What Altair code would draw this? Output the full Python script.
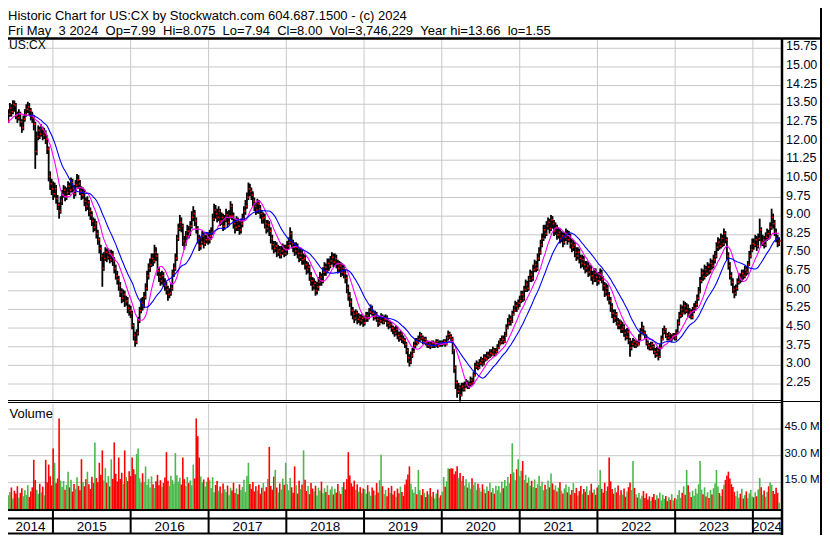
import altair as alt
import numpy as np
import pandas as pd

# ---------------- weekly data ----------------
close_2014 = [12.70,12.55,12.90,12.60,12.85,13.10,13.35,13.20,13.50,13.45,13.05,12.95,13.10,12.80,12.55,12.90,13.10,13.30,13.40,13.25,13.05,12.95,12.70,11.60,12.20,12.45,12.30,12.50,12.25,12.35,12.10,11.70,10.60,10.30,10.10]
high_2014 = [12.95,12.90,13.10,13.05,13.05,13.30,13.55,13.50,13.66,13.65,13.55,13.20,13.30,13.20,12.90,13.05,13.30,13.50,13.60,13.55,13.35,13.20,13.05,12.80,12.40,12.65,12.60,12.70,12.60,12.55,12.45,12.25,11.80,10.80,10.50]
low_2014 = [12.35,12.40,12.45,12.40,12.50,12.75,13.00,13.00,13.10,13.20,12.90,12.75,12.85,12.60,12.35,12.45,12.80,13.00,13.15,13.05,12.85,12.75,12.45,10.90,11.45,12.05,12.10,12.20,12.05,12.10,11.90,11.50,10.40,10.05,9.85]
vol_2014 = [19.5,8.2,11.4,6.5,13.0,7.8,9.6,12.1,5.9,10.3,8.7,12.8,6.4,9.1,11.7,7.2,10.5,8.0,13.4,6.8,9.9,12.2,27.7,16.3,10.8,8.5,14.2,9.4,12.6,7.7,27.7,15.1,25.0,18.4,13.3]

close_2015 = [9.90,10.10,9.70,9.45,9.20,9.60,9.85,10.05,9.80,9.95,10.20,10.05,10.35,10.10,9.90,10.25,10.45,10.30,10.00,9.85,9.95,9.60,9.40,9.55,9.20,9.05,8.80,8.55,8.70,8.30,8.05,7.70,7.40,6.90,7.30,7.55,7.35,7.50,7.25,7.45,7.20,6.90,6.60,6.45,6.20,5.95,5.70,5.85,5.55,5.60,5.30,5.20]
high_2015 = [10.40,10.35,10.25,9.85,9.55,9.80,10.05,10.25,10.20,10.15,10.40,10.35,10.55,10.50,10.25,10.45,10.70,10.65,10.45,10.20,10.15,10.05,9.75,9.80,9.65,9.35,9.20,8.95,8.90,8.80,8.45,8.15,7.85,7.50,7.55,7.75,7.70,7.70,7.65,7.65,7.60,7.35,7.05,6.80,6.60,6.35,6.10,6.05,6.00,5.80,5.75,5.45]
low_2015 = [9.65,9.75,9.50,9.25,8.90,9.10,9.45,9.75,9.60,9.65,9.85,9.85,9.95,9.95,9.70,9.80,10.15,10.10,9.85,9.65,9.70,9.40,9.20,9.25,9.00,8.85,8.60,8.35,8.40,8.10,7.85,7.50,7.20,6.16,6.80,7.20,7.15,7.25,7.10,7.15,7.00,6.70,6.45,6.25,6.00,5.75,5.50,5.55,5.35,5.40,5.10,5.00]
vol_2015 = [34.0,26.0,14.5,17.2,51.0,16.0,12.4,15.8,10.9,13.6,21.0,12.2,16.5,9.8,14.1,11.5,17.9,13.0,10.6,28.0,15.2,12.8,16.7,21.0,13.9,11.3,18.2,14.6,37.5,17.4,15.0,26.0,19.3,33.0,16.1,23.0,14.8,18.6,12.7,28.0,17.0,37.5,19.8,15.5,29.0,16.9,20.4,14.2,33.0,18.1,15.7,21.3]

close_2016 = [5.10,4.60,4.20,3.95,4.30,4.80,5.20,5.50,5.40,5.75,6.10,6.60,6.90,7.05,7.30,7.20,7.55,7.40,6.80,6.55,6.40,6.60,6.30,6.20,6.05,5.85,5.90,6.10,6.70,6.90,7.30,8.10,8.50,8.75,8.60,8.00,7.90,8.20,8.40,8.30,8.60,8.95,9.10,8.80,8.50,8.10,7.80,7.95,8.20,7.90,8.05,8.15,8.05]
high_2016 = [5.40,5.20,4.70,4.35,4.45,4.95,5.35,5.70,5.75,5.95,6.30,6.80,7.10,7.30,7.50,7.50,7.85,7.75,7.50,6.95,6.75,6.80,6.75,6.50,6.35,6.20,6.10,6.30,6.85,7.10,7.50,8.25,8.70,9.05,8.95,8.70,8.20,8.40,8.65,8.60,8.80,9.20,9.40,9.25,8.95,8.60,8.25,8.15,8.40,8.35,8.25,8.35,8.35]
low_2016 = [4.90,4.45,4.00,3.75,3.85,4.20,4.70,5.10,5.20,5.30,5.65,6.00,6.45,6.75,6.95,7.00,7.10,7.20,6.60,6.35,6.20,6.25,6.15,6.00,5.85,5.60,5.70,5.80,6.00,6.55,6.80,7.20,8.00,8.40,8.35,7.80,7.65,7.80,8.05,8.10,8.20,8.50,8.80,8.60,8.30,7.90,7.60,7.65,7.85,7.70,7.80,7.90,7.85]
vol_2016 = [18.5,29.0,22.4,19.6,31.0,34.0,17.3,14.8,20.1,15.2,24.0,13.6,16.9,12.1,18.4,14.0,11.8,15.6,19.2,13.3,16.2,12.5,14.7,17.8,32.0,15.9,13.1,18.7,16.4,14.3,31.5,19.0,15.4,17.6,13.8,29.0,16.8,12.9,18.0,14.6,16.1,13.4,25.0,17.2,51.0,41.0,29.0,18.3,14.9,16.6,12.6,15.3,17.7]

close_2017 = [8.20,8.35,8.90,9.25,9.10,8.95,9.20,8.80,8.95,8.60,8.85,9.05,8.75,9.00,9.40,9.00,8.70,8.55,8.80,8.60,8.45,8.70,8.90,9.20,9.40,9.75,10.10,10.00,9.85,9.60,9.40,9.25,9.50,9.30,9.10,8.90,8.95,8.70,8.50,8.65,8.40,8.10,7.85,7.70,7.80,7.55,7.65,7.45,7.60,7.70,7.50,7.65]
high_2017 = [8.45,8.55,9.10,9.50,9.45,9.30,9.40,9.30,9.15,9.10,9.05,9.30,9.20,9.25,9.60,9.50,9.15,8.90,9.00,8.95,8.80,8.90,9.10,9.40,9.65,9.95,10.35,10.30,10.15,10.00,9.75,9.55,9.70,9.65,9.45,9.25,9.15,9.10,8.85,8.85,8.80,8.55,8.25,8.00,8.00,7.95,7.85,7.80,7.80,7.90,7.85,7.85]
low_2017 = [7.90,8.05,8.25,8.80,8.90,8.75,8.80,8.60,8.65,8.40,8.45,8.75,8.55,8.65,8.90,8.85,8.50,8.30,8.40,8.40,8.25,8.30,8.55,8.80,9.05,9.30,9.65,9.80,9.65,9.40,9.20,9.05,9.10,9.10,8.90,8.70,8.70,8.50,8.30,8.35,8.20,7.90,7.65,7.50,7.55,7.35,7.40,7.30,7.30,7.45,7.35,7.40]
vol_2017 = [16.2,11.8,17.9,9.4,13.5,15.8,10.2,12.7,8.9,14.3,11.1,9.6,13.2,7.8,12.0,10.4,14.8,9.0,11.6,8.3,13.9,10.7,12.4,16.5,9.7,18.6,26.0,14.1,11.3,15.2,9.9,12.8,10.5,13.7,8.6,11.9,14.6,10.0,12.3,16.9,35.0,13.0,10.8,18.2,22.0,12.1,9.3,14.4,11.0,17.1,13.6,26.0]

close_2018 = [7.80,7.95,8.30,7.90,7.75,7.60,7.75,7.50,7.35,7.50,7.25,7.30,7.05,6.85,6.95,6.60,6.40,6.20,6.30,6.00,6.15,6.35,6.55,6.40,6.75,6.95,6.80,7.10,7.00,7.20,7.35,7.15,7.30,7.10,6.90,7.00,6.75,6.90,6.70,6.50,6.10,5.80,5.55,5.20,5.05,4.90,5.10,4.85,4.95,4.80,4.90,4.70]
high_2018 = [8.00,8.15,8.55,8.40,8.05,7.95,7.95,7.90,7.70,7.70,7.65,7.50,7.45,7.20,7.15,7.05,6.75,6.55,6.50,6.40,6.35,6.55,6.75,6.70,6.95,7.15,7.10,7.30,7.30,7.40,7.55,7.50,7.50,7.45,7.25,7.20,7.15,7.10,7.05,6.85,6.65,6.25,5.95,5.70,5.35,5.20,5.25,5.20,5.10,5.05,5.05,5.00]
low_2018 = [7.45,7.65,7.85,7.70,7.55,7.40,7.45,7.30,7.15,7.20,7.05,7.05,6.85,6.65,6.70,6.40,6.20,6.00,6.05,5.80,5.85,6.00,6.20,6.20,6.30,6.60,6.60,6.70,6.80,6.90,7.05,6.95,7.00,6.90,6.70,6.75,6.55,6.60,6.50,6.30,5.90,5.60,5.35,5.00,4.85,4.70,4.80,4.65,4.70,4.60,4.65,4.55]
vol_2018 = [14.0,10.6,17.5,12.2,9.1,24.0,13.4,8.7,15.9,11.2,13.8,33.0,16.4,10.1,12.9,8.4,14.7,11.5,9.8,13.1,7.6,12.0,10.3,15.4,8.8,11.7,9.5,13.3,7.9,10.9,12.6,8.2,11.4,9.2,14.1,10.0,8.5,12.4,15.1,11.0,16.8,32.0,18.9,14.5,12.7,16.0,10.8,13.9,9.7,12.3,8.9,11.6]

close_2019 = [4.85,5.00,4.90,5.15,5.30,5.10,4.95,5.05,4.85,4.70,4.80,4.95,4.75,4.85,4.90,4.70,4.60,4.65,4.50,4.40,4.30,4.45,4.20,4.10,4.25,4.05,4.00,3.85,3.60,3.30,3.15,3.40,3.55,3.80,3.95,3.90,4.05,4.20,4.10,3.95,4.05,3.90,3.80,3.85,3.75,3.90,3.80,3.85,3.95,3.80,3.90,3.85]
high_2019 = [5.00,5.15,5.15,5.30,5.45,5.40,5.20,5.20,5.15,4.95,4.95,5.10,5.05,5.00,5.05,5.00,4.85,4.80,4.75,4.60,4.55,4.60,4.55,4.35,4.40,4.35,4.20,4.10,3.95,3.70,3.45,3.55,3.70,3.95,4.10,4.10,4.20,4.35,4.30,4.20,4.15,4.15,4.00,3.95,3.95,4.00,4.00,3.95,4.05,4.05,4.00,4.00]
low_2019 = [4.60,4.75,4.75,4.85,5.05,5.00,4.80,4.85,4.75,4.55,4.60,4.70,4.65,4.65,4.75,4.55,4.45,4.50,4.35,4.25,4.15,4.20,4.05,3.95,4.00,3.90,3.85,3.70,3.45,3.10,2.95,3.05,3.30,3.50,3.70,3.80,3.85,3.95,4.00,3.85,3.85,3.80,3.70,3.70,3.65,3.70,3.70,3.70,3.75,3.70,3.75,3.75]
vol_2019 = [11.2,8.6,13.4,9.9,7.5,12.1,10.4,8.0,14.6,9.3,16.2,30.5,12.8,8.4,10.7,7.2,11.9,9.0,13.0,8.1,10.2,6.9,11.5,8.8,12.6,9.5,7.4,13.8,16.6,19.4,24.0,14.2,11.0,9.2,12.4,8.3,22.0,10.5,7.8,11.3,9.1,6.8,10.0,8.2,11.8,7.0,9.6,5.9,8.7,10.9,6.4,7.7]

close_2020 = [3.90,3.95,3.85,4.10,4.25,4.15,4.05,3.60,2.90,2.30,1.95,2.10,1.80,2.15,2.05,2.20,2.30,2.15,2.25,2.40,2.30,2.60,2.95,3.05,2.90,3.10,3.20,3.05,3.30,3.25,3.40,3.35,3.50,3.45,3.60,3.45,3.55,3.70,3.85,3.95,4.05,3.95,4.20,4.50,4.70,4.85,4.75,5.05,5.20,5.40,5.30,5.50]
high_2020 = [4.00,4.05,4.05,4.20,4.40,4.35,4.25,4.15,3.65,3.00,2.40,2.30,2.20,2.30,2.30,2.35,2.45,2.40,2.35,2.55,2.50,2.75,3.10,3.20,3.15,3.25,3.35,3.30,3.45,3.45,3.55,3.55,3.65,3.65,3.75,3.70,3.70,3.85,4.00,4.10,4.20,4.20,4.35,4.65,4.90,5.05,5.00,5.20,5.40,5.60,5.55,5.65]
low_2020 = [3.75,3.80,3.75,3.80,4.00,4.05,3.95,3.45,2.70,2.05,1.70,1.85,1.55,1.75,1.95,1.95,2.10,2.05,2.05,2.15,2.20,2.25,2.55,2.85,2.80,2.85,3.00,2.95,3.00,3.15,3.20,3.25,3.30,3.35,3.40,3.35,3.40,3.50,3.65,3.80,3.85,3.85,3.90,4.15,4.45,4.60,4.60,4.70,5.00,5.15,5.15,5.25]
vol_2020 = [9.8,18.0,12.5,15.7,23.0,22.5,23.0,22.8,19.6,21.2,24.0,17.4,20.3,15.9,18.6,13.2,16.8,12.1,14.9,11.4,17.3,13.6,15.0,10.8,14.2,12.0,9.7,13.9,11.1,8.9,12.7,10.2,14.8,9.4,11.8,8.6,13.1,10.6,12.9,9.3,15.4,11.7,16.3,13.0,18.1,14.5,19.7,37.0,20.6,16.2,22.4,28.0]

close_2021 = [5.60,5.85,5.70,6.05,6.25,6.10,6.45,6.65,6.50,6.85,7.05,6.90,7.30,7.55,7.85,8.10,8.45,8.30,8.60,8.75,8.50,8.85,8.70,8.40,8.55,8.25,8.35,8.10,8.20,7.95,8.15,8.30,8.05,8.20,7.90,7.75,7.85,7.55,7.40,7.55,7.30,7.10,7.25,7.05,6.90,7.00,6.75,6.85,6.60,6.45,6.70,6.55,6.40]
high_2021 = [5.80,6.00,6.00,6.20,6.45,6.40,6.60,6.85,6.80,7.05,7.25,7.20,7.50,7.75,8.05,8.30,8.65,8.65,8.80,8.95,8.90,9.05,9.00,8.85,8.75,8.65,8.55,8.50,8.40,8.35,8.35,8.50,8.45,8.40,8.30,8.10,8.05,7.95,7.75,7.75,7.70,7.45,7.45,7.40,7.20,7.20,7.15,7.05,7.00,6.80,6.90,6.90,6.75]
low_2021 = [5.35,5.50,5.55,5.60,5.95,5.95,6.00,6.35,6.35,6.40,6.75,6.75,6.80,7.20,7.45,7.75,8.00,8.10,8.20,8.45,8.30,8.40,8.50,8.20,8.25,8.05,8.10,7.90,7.95,7.75,7.85,8.00,7.85,7.95,7.70,7.55,7.60,7.35,7.20,7.25,7.10,6.90,6.95,6.85,6.70,6.75,6.55,6.60,6.40,6.25,6.35,6.35,6.20]
vol_2021 = [18.4,21.5,27.0,16.3,19.2,14.7,17.8,13.1,15.9,12.4,16.6,11.8,14.0,18.7,12.9,15.3,10.6,13.7,11.2,16.0,12.2,20.0,14.4,10.9,13.3,9.8,12.0,15.1,10.3,8.7,11.6,13.8,9.4,12.5,8.1,10.7,14.6,9.0,11.9,7.6,10.1,13.0,8.4,11.3,9.7,12.8,7.9,10.4,14.2,9.2,11.0,8.0,12.1]

close_2022 = [6.55,6.70,6.45,6.20,5.95,6.10,5.80,5.60,5.35,5.10,4.90,5.05,4.75,4.60,4.70,4.45,4.55,4.30,4.15,4.35,4.00,3.70,3.85,3.95,3.80,3.90,3.85,4.10,4.35,4.50,4.30,4.15,3.90,3.80,3.70,3.85,3.75,3.55,3.45,3.60,3.35,3.70,4.05,4.35,4.45,4.20,4.10,4.25,4.05,4.15,4.20,4.10]
high_2022 = [6.75,6.90,6.85,6.60,6.35,6.30,6.25,5.95,5.75,5.50,5.25,5.25,5.15,4.90,4.85,4.80,4.75,4.65,4.45,4.50,4.45,4.10,4.00,4.10,4.05,4.00,4.00,4.25,4.50,4.75,4.60,4.40,4.25,4.00,3.90,3.95,3.95,3.85,3.70,3.75,3.70,3.85,4.20,4.50,4.60,4.50,4.30,4.35,4.30,4.25,4.30,4.30]
low_2022 = [6.25,6.40,6.30,6.00,5.75,5.80,5.60,5.45,5.15,4.90,4.70,4.75,4.60,4.45,4.45,4.30,4.30,4.15,4.00,4.05,3.85,3.35,3.60,3.75,3.70,3.70,3.75,3.80,4.00,4.25,4.20,4.05,3.80,3.65,3.60,3.60,3.60,3.45,3.30,3.35,3.20,3.30,3.65,4.00,4.25,4.10,4.00,4.00,3.95,3.95,4.05,4.00]
vol_2022 = [13.5,22.0,11.4,9.1,14.8,10.2,12.7,29.0,15.6,11.3,8.6,12.0,9.4,13.2,7.8,10.5,8.1,11.6,6.9,9.8,12.3,14.9,10.7,27.0,11.9,8.3,6.5,9.0,5.8,7.4,10.1,6.2,8.8,5.4,7.1,4.6,6.7,8.5,5.1,7.7,6.0,9.3,4.9,8.0,5.7,7.3,4.4,6.6,5.2,8.4,4.8,6.1]

close_2023 = [4.30,4.70,5.00,5.25,5.10,5.40,5.20,5.35,5.05,5.15,4.95,5.20,5.30,5.45,5.70,5.95,6.40,6.70,6.55,6.85,6.70,6.95,6.80,7.10,7.00,7.25,7.40,7.75,7.95,7.80,8.10,7.90,8.30,8.05,7.40,7.00,6.60,6.35,6.05,5.90,6.10,6.35,6.55,6.45,6.70,6.60,6.85,6.75,7.05,7.40,7.65,7.90]
high_2023 = [4.45,4.85,5.15,5.45,5.40,5.60,5.55,5.50,5.45,5.30,5.25,5.35,5.50,5.60,5.85,6.15,6.55,6.90,6.85,7.05,7.00,7.15,7.10,7.30,7.25,7.45,7.60,7.95,8.15,8.10,8.30,8.25,8.50,8.40,8.15,7.55,7.15,6.75,6.50,6.20,6.25,6.50,6.70,6.70,6.85,6.85,7.00,7.00,7.20,7.60,7.85,8.10]
low_2023 = [4.00,4.25,4.60,4.90,4.95,5.05,5.05,5.10,4.95,4.90,4.85,4.85,5.10,5.20,5.35,5.60,5.90,6.30,6.40,6.45,6.55,6.60,6.65,6.70,6.85,6.90,7.10,7.30,7.60,7.65,7.70,7.75,7.80,7.90,7.25,6.85,6.45,6.20,5.90,5.70,5.80,6.00,6.25,6.30,6.35,6.45,6.50,6.60,6.65,7.00,7.30,7.55]
vol_2023 = [5.5,7.9,10.6,6.3,9.2,12.8,8.0,22.0,13.4,9.6,6.8,10.3,7.4,11.5,8.7,13.9,27.0,10.9,8.3,12.2,7.1,9.5,6.2,10.8,8.1,11.7,14.3,22.0,12.6,9.0,7.5,11.1,13.6,16.4,18.8,21.0,17.2,14.0,12.4,9.7,7.3,10.2,6.4,8.6,11.4,5.9,7.8,9.9,6.1,8.8,10.7,7.0]

close_2024 = [7.85,8.05,7.80,8.10,8.45,7.95,8.05,7.85,8.15,8.30,8.20,8.55,8.95,8.70,8.35,8.10,7.90,8.00]
high_2024 = [8.10,8.25,8.20,8.30,8.90,8.55,8.25,8.20,8.35,8.50,8.45,8.75,9.30,9.10,8.85,8.50,8.25,8.15]
low_2024 = [7.65,7.75,7.60,7.70,8.00,7.80,7.80,7.70,7.75,8.00,8.05,8.10,8.45,8.50,8.20,7.95,7.75,7.80]
vol_2024 = [6.6,9.4,7.2,11.0,17.5,12.3,8.1,10.4,6.9,9.7,12.8,15.0,13.6,10.2,8.5,11.9,9.1,3.7]

year_labels = ["2014", "2015", "2016", "2017", "2018", "2019", "2020", "2021", "2022", "2023", "2024"]
price_ticks = [2.25, 3.00, 3.75, 4.50, 5.25, 6.00, 6.75, 7.50, 8.25, 9.00, 9.75, 10.50, 11.25, 12.00, 12.75, 13.50, 14.25, 15.00, 15.75]
vol_ticks = [15.0, 30.0, 45.0]

title_1 = "Historic Chart for US:CX by Stockwatch.com 604.687.1500 - (c) 2024"
title_2 = "Fri May \u00a03 2024 \u00a0Op=7.99 \u00a0Hi=8.075 \u00a0Lo=7.94 \u00a0Cl=8.00 \u00a0Vol=3,746,229 \u00a0Year hi=13.66 \u00a0lo=1.55"
symbol = "US:CX"

# ---------------- assemble ----------------
close = sum([close_2014, close_2015, close_2016, close_2017, close_2018, close_2019, close_2020, close_2021, close_2022, close_2023, close_2024], [])
high = sum([high_2014, high_2015, high_2016, high_2017, high_2018, high_2019, high_2020, high_2021, high_2022, high_2023, high_2024], [])
low = sum([low_2014, low_2015, low_2016, low_2017, low_2018, low_2019, low_2020, low_2021, low_2022, low_2023, low_2024], [])
vol = sum([vol_2014, vol_2015, vol_2016, vol_2017, vol_2018, vol_2019, vol_2020, vol_2021, vol_2022, vol_2023, vol_2024], [])
n = min(len(close), len(high), len(low), len(vol))
dates = pd.date_range(end="2024-05-03", periods=n, freq="7D")
df = pd.DataFrame({"date": dates, "close": close[:n], "high": high[:n], "low": low[:n], "vol": vol[:n]})
prev = df["close"].shift(1)
df["dir"] = np.where(df["close"] > prev, "up", np.where(df["close"] < prev, "down", "flat"))
df["zero"] = 0.0

# ---------------- layout (chart pixels; page offset 8, page = 830x543) ----------------
W, H = 814, 527
PX = 773              # plot right edge
HDR = 30.5            # header separator line
P_TOP, P_BOT = 25, 392
V_TOP, V_BOT = 396, 501
VB_LINE = 502         # volume bottom line
BAND_LINE = 510.5     # blank band bottom line
YR_LINE = 525.5       # year band bottom line
dom_start = pd.Timestamp("2014-06-04")
dom_end = pd.Timestamp("2024-05-12")

xscale = alt.Scale(domain=[alt.DateTime(year=2014, month=6, date=4), alt.DateTime(year=2024, month=5, date=12)], range=[0, PX])
pscale = alt.Scale(domain=[1.607, 16.365], range=[P_BOT, P_TOP], zero=False, nice=False)
vscale = alt.Scale(domain=[0, 59.1], range=[V_BOT, V_TOP], zero=False, nice=False)

X = alt.X("date:T", scale=xscale, axis=None)
one = pd.DataFrame({"a": [0]})

year_starts = pd.DataFrame({"d": pd.to_datetime([f"{y}-01-01" for y in year_labels[1:]])})
mids = []
for y in year_labels:
    s = max(pd.Timestamp(f"{y}-01-01"), dom_start)
    e = min(pd.Timestamp(f"{int(y)+1}-01-01"), dom_end)
    mids.append(s + (e - s) / 2)
year_df = pd.DataFrame({"d": mids, "lab": year_labels})
ptick_df = pd.DataFrame({"v": price_ticks, "lab": [f"{v:.2f}" for v in price_ticks]})
vtick_df = pd.DataFrame({"v": vol_ticks, "lab": [f"{v:.1f} M" for v in vol_ticks]})

GRID = "#c8c8c8"
FONT = "Liberation Sans"

def hline(y, x1, x2, w=1.0, color="black"):
    return alt.Chart(one).mark_rule(color=color, strokeWidth=w).encode(
        x=alt.value(x1), x2=alt.value(x2), y=alt.value(y))

def vline(x, y1, y2, w=1.0, color="black"):
    return alt.Chart(one).mark_rule(color=color, strokeWidth=w).encode(
        x=alt.value(x), y=alt.value(y1), y2=alt.value(y2))

layers = []
# grids
layers.append(alt.Chart(ptick_df).mark_rule(color=GRID, strokeWidth=1).encode(
    y=alt.Y("v:Q", scale=pscale, axis=None), x=alt.value(0), x2=alt.value(PX)))
layers.append(alt.Chart(year_starts).mark_rule(color=GRID, strokeWidth=1).encode(
    x=alt.X("d:T", scale=xscale, axis=None), y=alt.value(HDR), y2=alt.value(P_BOT)))
layers.append(alt.Chart(vtick_df).mark_rule(color=GRID, strokeWidth=1).encode(
    y=alt.Y("v:Q", scale=vscale, axis=None), x=alt.value(0), x2=alt.value(PX)))
layers.append(alt.Chart(year_starts).mark_rule(color=GRID, strokeWidth=1).encode(
    x=alt.X("d:T", scale=xscale, axis=None), y=alt.value(V_TOP), y2=alt.value(V_BOT)))

# volume bars
layers.append(alt.Chart(df).mark_rule(strokeWidth=1.6, clip=True).encode(
    x=X, y=alt.Y("vol:Q", scale=vscale, axis=None), y2="zero:Q",
    color=alt.Color("dir:N", scale=alt.Scale(domain=["up", "down", "flat"], range=["#4cb84c", "#ff0000", "#a0a0a0"]), legend=None)))

# price bars + close marks
layers.append(alt.Chart(df).mark_rule(color="black", strokeWidth=1.8, clip=True).encode(
    x=X, y=alt.Y("low:Q", scale=pscale, axis=None), y2="high:Q"))
layers.append(alt.Chart(df).mark_square(color="#ff0000", size=2.5, opacity=1, xOffset=1, clip=True).encode(
    x=X, y=alt.Y("close:Q", scale=pscale, axis=None)))

# moving averages
layers.append(alt.Chart(df).transform_window(
    ma10="mean(close)", frame=[-9, 0], sort=[alt.SortField("date")]
).mark_line(color="#ff00ff", strokeWidth=1.1, clip=True).encode(
    x=X, y=alt.Y("ma10:Q", scale=pscale, axis=None)))
layers.append(alt.Chart(df).transform_window(
    ma20="mean(close)", cnt="count()", frame=[-19, 0], sort=[alt.SortField("date")]
).transform_filter("datum.cnt >= 20").mark_line(color="#0000ff", strokeWidth=1.1, clip=True).encode(
    x=X, y=alt.Y("ma20:Q", scale=pscale, axis=None)))

# frame lines
layers += [
    hline(HDR, 0, W, 2.5),
    hline(392.5, 0, PX, 1), hline(394.5, 0, PX, 1), hline(393.5, PX, W, 1),
    hline(VB_LINE, 0, PX, 2),
    hline(BAND_LINE, 0, PX, 2),
    hline(YR_LINE, 0, PX, 2),
    vline(PX + 1, HDR, H, 2.5),
    vline(W - 1, 0, H, 2),
]
layers.append(alt.Chart(year_starts).mark_rule(color="black", strokeWidth=2).encode(
    x=alt.X("d:T", scale=xscale, axis=None), y=alt.value(VB_LINE), y2=alt.value(YR_LINE)))

# texts
def txt(s, x, y, size=13, align="left"):
    return alt.Chart(pd.DataFrame({"t": [s]})).mark_text(
        align=align, baseline="alphabetic", font=FONT, fontSize=size, color="black").encode(
        x=alt.value(x), y=alt.value(y), text="t:N")

layers += [
    txt(title_1, 0, 12),
    txt(title_2, 0, 26.5),
    txt(symbol, 1, 41, 12),
    txt("Volume", 1.5, 410, 13),
]
layers.append(alt.Chart(ptick_df).mark_text(align="left", baseline="middle", dy=-2, font=FONT, fontSize=12.5, color="#000020").encode(
    y=alt.Y("v:Q", scale=pscale, axis=None), x=alt.value(778), text="lab:N"))
layers.append(alt.Chart(vtick_df).mark_text(align="left", baseline="middle", dy=-2, font=FONT, fontSize=11.5, color="#000020").encode(
    y=alt.Y("v:Q", scale=vscale, axis=None), x=alt.value(776.5), text="lab:N"))
layers.append(alt.Chart(year_df).mark_text(align="center", baseline="alphabetic", font=FONT, fontSize=13.5, color="#000020").encode(
    x=alt.X("d:T", scale=xscale, axis=None), y=alt.value(522.5), text="lab:N"))

chart = alt.layer(*layers).resolve_scale(y="independent").properties(
    width=W, height=H, padding=0, autosize=alt.AutoSizeParams(type="none"), background="white"
).configure_view(stroke=None)

chart.save("out.html", embed_options={"renderer": "svg", "actions": False})
